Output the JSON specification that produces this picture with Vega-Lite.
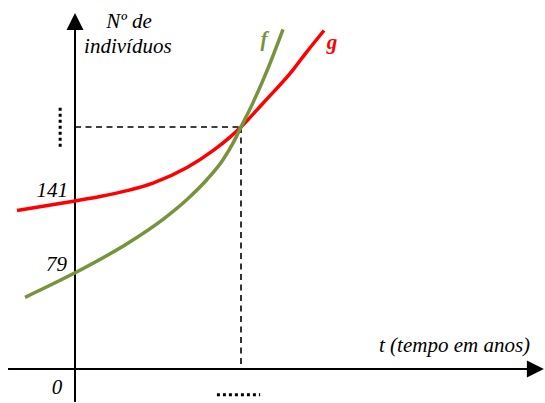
{
  "$schema": "https://vega.github.io/schema/vega-lite/v6.json",
  "width": 545,
  "height": 403,
  "padding": 0,
  "autosize": {"type": "fit", "contains": "padding"},
  "background": "white",
  "config": {"view": {"stroke": null}},
  "datasets": {
    "curves": [
      {"series": "g", "t": -1.758, "n": 132.6},
      {"series": "g", "t": 0, "n": 140.6},
      {"series": "g", "t": 0.758, "n": 144.3},
      {"series": "g", "t": 1.576, "n": 149.2},
      {"series": "g", "t": 2.364, "n": 155.5},
      {"series": "g", "t": 3.394, "n": 168.5},
      {"series": "g", "t": 4.182, "n": 182.6},
      {"series": "g", "t": 4.697, "n": 193.9},
      {"series": "g", "t": 5.03, "n": 202.4},
      {"series": "g", "t": 5.697, "n": 222.3},
      {"series": "g", "t": 6.606, "n": 250.2},
      {"series": "g", "t": 7.0, "n": 264.4},
      {"series": "g", "t": 7.545, "n": 283.1},
      {"series": "f", "t": -1.515, "n": 60.0},
      {"series": "f", "t": 0, "n": 80.5},
      {"series": "f", "t": 1.576, "n": 104.8},
      {"series": "f", "t": 2.667, "n": 125.2},
      {"series": "f", "t": 3.394, "n": 141.8},
      {"series": "f", "t": 4.0, "n": 158.5},
      {"series": "f", "t": 4.485, "n": 175.1},
      {"series": "f", "t": 4.788, "n": 188.9},
      {"series": "f", "t": 5.03, "n": 202.4},
      {"series": "f", "t": 5.394, "n": 222.8},
      {"series": "f", "t": 5.848, "n": 251.5},
      {"series": "f", "t": 6.303, "n": 284.1}
    ],
    "axes": [
      {"x": -2.03, "x2": 13.8, "y": 0, "y2": 0},
      {"x": 0, "x2": 0, "y": -27.5, "y2": 290}
    ],
    "arrows": [
      {"x": 0, "y": 290.6, "dir": "up"},
      {"x": 13.95, "y": 0, "dir": "right"}
    ],
    "guides": [
      {"x": 0, "x2": 5.03, "y": 202.4, "y2": 202.4},
      {"x": 5.03, "x2": 5.03, "y": 202.4, "y2": 0}
    ],
    "dots": [
      {"x": -0.45, "x2": -0.45, "y": 186, "y2": 221},
      {"x": 4.3, "x2": 5.61, "y": -21.4, "y2": -21.4}
    ],
    "labels": [
      {"x": 1.64, "y": 285.2, "text": "Nº de", "align": "center"},
      {"x": 1.6, "y": 264.4, "text": "indivíduos", "align": "center"},
      {"x": 13.79, "y": 14.2, "text": "t (tempo em anos)", "align": "right"},
      {"x": -0.21, "y": 144.3, "text": "141", "align": "right"},
      {"x": -0.24, "y": 81.7, "text": "79", "align": "right"},
      {"x": -0.39, "y": -20.9, "text": "0", "align": "right"}
    ],
    "names": [
      {"x": 5.73, "y": 270.5, "text": "f", "series": "f"},
      {"x": 7.79, "y": 268, "text": "g", "series": "g"}
    ]
  },
  "layer": [
    {
      "data": {"name": "axes"},
      "mark": {"type": "rule", "color": "black", "strokeWidth": 2},
      "encoding": {
        "x": {"field": "x", "type": "quantitative", "scale": {"domain": [-2.273, 14.242], "nice": false, "zero": false}, "axis": null},
        "x2": {"field": "x2"},
        "y": {"field": "y", "type": "quantitative", "scale": {"domain": [-27.5, 308.6], "nice": false, "zero": false}, "axis": null},
        "y2": {"field": "y2"}
      }
    },
    {
      "data": {"name": "arrows"},
      "transform": [{"filter": "datum.dir == 'up'"}],
      "mark": {"type": "point", "shape": "M0,-1L1,1L-1,1Z", "filled": true, "color": "black", "opacity": 1, "size": 289},
      "encoding": {
        "x": {"field": "x", "type": "quantitative"},
        "y": {"field": "y", "type": "quantitative"}
      }
    },
    {
      "data": {"name": "arrows"},
      "transform": [{"filter": "datum.dir == 'right'"}],
      "mark": {"type": "point", "shape": "M1,0L-1,1L-1,-1Z", "filled": true, "color": "black", "opacity": 1, "size": 289},
      "encoding": {
        "x": {"field": "x", "type": "quantitative"},
        "y": {"field": "y", "type": "quantitative"}
      }
    },
    {
      "data": {"name": "guides"},
      "mark": {"type": "rule", "color": "black", "strokeWidth": 1.6, "strokeDash": [6, 4.5]},
      "encoding": {
        "x": {"field": "x", "type": "quantitative"},
        "x2": {"field": "x2"},
        "y": {"field": "y", "type": "quantitative"},
        "y2": {"field": "y2"}
      }
    },
    {
      "data": {"name": "dots"},
      "mark": {"type": "rule", "color": "black", "strokeWidth": 3, "strokeDash": [3, 3]},
      "encoding": {
        "x": {"field": "x", "type": "quantitative"},
        "x2": {"field": "x2"},
        "y": {"field": "y", "type": "quantitative"},
        "y2": {"field": "y2"}
      }
    },
    {
      "data": {"name": "curves"},
      "mark": {"type": "line", "strokeWidth": 3.5, "interpolate": "monotone"},
      "encoding": {
        "x": {"field": "t", "type": "quantitative"},
        "y": {"field": "n", "type": "quantitative"},
        "color": {"field": "series", "type": "nominal", "scale": {"domain": ["f", "g"], "range": ["#77933C", "#FF0000"]}, "legend": null},
        "order": {"field": "t", "type": "quantitative"}
      }
    },
    {
      "data": {"name": "labels"},
      "transform": [{"filter": "datum.align == 'center'"}],
      "mark": {"type": "text", "font": "Liberation Serif", "fontStyle": "italic", "fontSize": 21, "color": "black", "baseline": "alphabetic", "align": "center"},
      "encoding": {
        "x": {"field": "x", "type": "quantitative"},
        "y": {"field": "y", "type": "quantitative"},
        "text": {"field": "text"}
      }
    },
    {
      "data": {"name": "labels"},
      "transform": [{"filter": "datum.align == 'right'"}],
      "mark": {"type": "text", "font": "Liberation Serif", "fontStyle": "italic", "fontSize": 21, "color": "black", "baseline": "alphabetic", "align": "right"},
      "encoding": {
        "x": {"field": "x", "type": "quantitative"},
        "y": {"field": "y", "type": "quantitative"},
        "text": {"field": "text"}
      }
    },
    {
      "data": {"name": "names"},
      "mark": {"type": "text", "font": "Liberation Serif", "fontStyle": "italic", "fontWeight": "bold", "fontSize": 21, "baseline": "alphabetic", "align": "center"},
      "encoding": {
        "x": {"field": "x", "type": "quantitative"},
        "y": {"field": "y", "type": "quantitative"},
        "text": {"field": "text"},
        "color": {"field": "series", "type": "nominal", "legend": null}
      }
    }
  ]
}
